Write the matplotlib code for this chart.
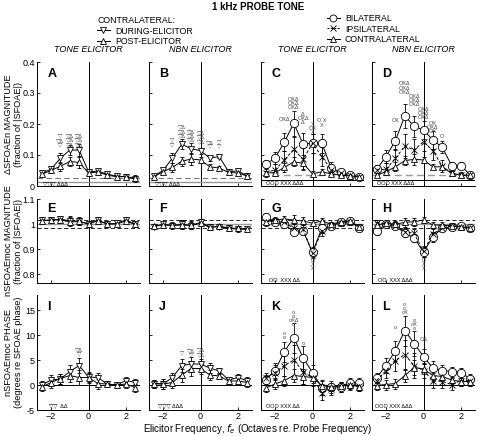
import numpy as np
import matplotlib
matplotlib.use('Agg')
import matplotlib.pyplot as plt
from matplotlib.lines import Line2D

plt.rcParams['font.family'] = ['Liberation Sans', 'DejaVu Sans']

#elicitor frequency re probe (octaves)
octs = [-2.5, -2, -1.5, -1, -0.5, 0, 0.5, 1, 1.5, 2, 2.5]

#row 1: delta SFOAEn magnitude
A_during = [0.042, 0.054, 0.090, 0.116, 0.116, 0.046, 0.048, 0.038, 0.032, 0.030, 0.022]
A_post = [0.038, 0.050, 0.064, 0.079, 0.076, 0.042, 0.045, 0.035, 0.030, 0.030, 0.025]
B_during = [0.032, 0.050, 0.090, 0.135, 0.120, 0.114, 0.090, 0.095, 0.046, 0.049, 0.032]
B_post = [0.030, 0.046, 0.060, 0.080, 0.087, 0.084, 0.062, 0.058, 0.044, 0.042, 0.032]
C_bi = [0.070, 0.090, 0.142, 0.202, 0.135, 0.138, 0.138, 0.057, 0.046, 0.035, 0.029]
C_ipsi = [0.043, 0.052, 0.084, 0.118, 0.086, 0.138, 0.095, 0.052, 0.041, 0.035, 0.029]
C_contra = [0.042, 0.043, 0.060, 0.078, 0.073, 0.039, 0.046, 0.039, 0.035, 0.033, 0.029]
D_bi = [0.054, 0.095, 0.146, 0.226, 0.192, 0.181, 0.148, 0.125, 0.066, 0.066, 0.035]
D_ipsi = [0.052, 0.054, 0.089, 0.129, 0.116, 0.143, 0.114, 0.064, 0.041, 0.035, 0.034]
D_contra = [0.035, 0.046, 0.062, 0.082, 0.086, 0.084, 0.062, 0.062, 0.041, 0.035, 0.035]

#row 2: nSFOAEmoc magnitude
E_during = [1.016, 1.014, 1.020, 1.012, 1.012, 0.999, 1.016, 0.999, 1.003, 1.016, 0.999]
E_post = [1.013, 1.016, 1.017, 1.008, 1.010, 1.001, 1.013, 1.001, 1.000, 1.012, 0.998]
F_during = [0.989, 0.999, 0.993, 0.999, 0.993, 1.007, 0.989, 0.989, 0.983, 0.979, 0.979]
F_post = [0.991, 0.996, 0.995, 0.996, 0.995, 1.003, 0.986, 0.991, 0.985, 0.982, 0.980]
G_bi = [1.029, 1.009, 0.999, 0.969, 0.972, 0.887, 0.983, 0.990, 1.009, 1.012, 0.983]
G_ipsi = [1.009, 1.012, 1.007, 0.983, 0.979, 0.883, 0.972, 0.992, 1.003, 1.007, 0.989]
G_contra = [1.009, 1.016, 1.020, 1.016, 1.012, 1.003, 1.012, 0.999, 1.009, 1.012, 0.989]
H_bi = [0.972, 0.999, 0.993, 0.963, 0.945, 0.887, 0.949, 0.983, 0.989, 0.993, 0.983]
H_ipsi = [1.003, 0.999, 0.993, 0.969, 0.963, 0.890, 0.960, 0.983, 0.992, 0.989, 0.983]
H_contra = [0.996, 1.003, 0.999, 1.007, 1.009, 1.016, 0.996, 0.996, 0.993, 0.989, 0.983]

#row 3: nSFOAEmoc phase (degrees)
I_during = [0.0, 1.0, 1.2, 2.7, 3.9, 1.6, 1.5, 0.2, 0.0, 0.9, 0.5]
I_post = [-0.4, 0.5, 1.3, 1.9, 1.5, 1.5, 0.3, 0.2, 0.0, 0.2, -0.5]
J_during = [0.3, 0.2, 1.5, 3.9, 4.2, 4.2, 3.4, 2.8, 1.0, 1.5, 0.8]
J_post = [0.3, 0.2, 0.5, 2.0, 3.3, 3.3, 2.0, 1.8, 0.8, 0.8, 0.5]
K_bi = [1.0, 2.9, 6.7, 9.5, 5.4, 2.5, -0.5, -0.3, -0.3, 0.5, 0.5]
K_ipsi = [1.5, 2.5, 3.9, 5.0, 2.7, 1.4, -1.5, -0.8, -0.3, 0.0, -0.1]
K_contra = [-0.6, 0.2, 0.9, 1.9, 1.7, 1.5, -0.1, -0.3, -0.1, 0.0, -0.3]
L_bi = [1.5, 3.9, 6.9, 10.9, 8.3, 5.7, 3.4, 2.9, 2.7, 2.5, 1.2]
L_ipsi = [0.9, 2.9, 4.9, 6.1, 3.9, 2.9, 0.9, 0.7, 0.1, 0.9, 0.9]
L_contra = [-0.1, 0.1, 0.3, 1.9, 3.5, 3.2, 1.9, 1.7, 1.0, 0.7, 0.7]

#error bars (rough, one per series group)
err1_small = [0.006, 0.008, 0.015, 0.015, 0.018, 0.010, 0.008, 0.006, 0.006, 0.008, 0.010]
err1_big = [0.015, 0.020, 0.030, 0.040, 0.035, 0.030, 0.030, 0.020, 0.010, 0.010, 0.008]
err2 = [0.010, 0.010, 0.012, 0.018, 0.015, 0.012, 0.012, 0.010, 0.010, 0.010, 0.008]
err2_dip = [0.015, 0.012, 0.015, 0.015, 0.015, 0.020, 0.020, 0.012, 0.010, 0.010, 0.010]
err3 = [0.8, 1.0, 1.0, 1.3, 1.5, 1.0, 1.0, 0.6, 0.5, 0.8, 0.8]
err3_big = [1.0, 1.5, 2.0, 3.0, 2.5, 1.5, 1.5, 1.2, 1.0, 1.0, 1.0]

#significance marks: (x, y, text)
A_sig = [(-1.5, 0.16, '▽'), (-1.5, 0.145, '▽Δ'), (-1.5, 0.13, '▽'),
         (-1, 0.163, '▽Δ'), (-1, 0.149, '▽Δ'), (-1, 0.135, '▽Δ'),
         (-0.5, 0.163, '▽Δ'), (-0.5, 0.149, '▽Δ'), (-0.5, 0.135, '▽Δ')]
B_sig = [(-1.5, 0.145, '▽'), (-1.5, 0.13, '▽'),
         (-1, 0.19, '▽Δ'), (-1, 0.176, '▽Δ'), (-1, 0.162, '▽Δ'),
         (-0.5, 0.176, '▽Δ'), (-0.5, 0.162, '▽Δ'), (-0.5, 0.148, '▽Δ'),
         (0, 0.172, '▽Δ'), (0, 0.158, '▽Δ'), (0, 0.144, '▽Δ'),
         (0.5, 0.14, '▽Δ'), (0.5, 0.126, '▽'), (1, 0.14, '▽'), (1, 0.126, '▽')]
C_sig = [(-1.5, 0.215, 'OXΔ'),
         (-1, 0.28, 'OXΔ'), (-1, 0.266, 'OXΔ'), (-1, 0.252, 'OXΔ'),
         (-0.5, 0.232, 'Δ'), (-0.5, 0.218, 'OXΔ'), (-0.5, 0.204, 'Δ'),
         (0, 0.2, 'X'), (0, 0.186, 'OX'), (0, 0.172, 'X'),
         (0.5, 0.21, 'O X'), (0.5, 0.196, 'X')]
D_sig = [(-1.5, 0.21, 'OX'),
         (-1, 0.33, 'OXΔ'), (-1, 0.316, 'OXΔ'), (-1, 0.302, 'OXΔ'),
         (-0.5, 0.29, 'OXΔ'), (-0.5, 0.276, 'OXΔ'), (-0.5, 0.262, 'OXΔ'),
         (0, 0.248, 'OXΔ'), (0, 0.234, 'OXΔ'), (0, 0.220, 'OXΔ'),
         (0.5, 0.203, 'OX'), (0.5, 0.190, 'OXΔ'), (0.5, 0.177, 'OX'),
         (1, 0.16, 'O')]
G_sig = [(0, 0.855, 'O'), (0, 0.838, 'X'), (0, 0.821, 'X')]
H_sig = [(0, 0.855, 'O'), (0, 0.838, 'X'), (0, 0.821, 'X')]
I_sig = [(-0.5, 7.0, '▽Δ'), (-0.5, 6.0, '▽')]
J_sig = [(-1, 6.3, '▽'), (-0.5, 6.8, '▽Δ'), (-0.5, 5.8, '▽'), (0, 7.0, '▽Δ'), (0, 6.0, '▽Δ')]
K_sig = [(-1.5, 10.4, 'o'), (-1.5, 9.6, 'o'), (-1, 14.6, 'o'), (-1, 13.8, 'o'),
         (-1, 13.0, 'oXΔ'), (-1, 12.2, 'o'), (-0.5, 8.4, 'o')]
L_sig = [(-1.5, 11.6, 'o'), (-1, 16.2, 'o'), (-1, 15.4, 'o'), (-1, 14.6, 'oX'),
         (-0.5, 12.9, 'o'), (-0.5, 12.1, 'oX'), (-0.5, 11.3, 'o'), (0, 9.2, 'OΔ')]

#bottom-row significance strings
contraBottom = ['▽▽▽ ΔΔΔ', '▽▽▽ ΔΔΔ']
threeBottom = ['OOO XXX ΔΔΔ', 'OOO XXX ΔΔΔ']
mocBottom = ['OO  XXX ΔΔ', 'OO  XXX ΔΔΔ']
phaseBottom = ['▽▽  ΔΔ', '▽▽▽ ΔΔΔ', 'OOO XXX ΔΔ', 'OOO XXX ΔΔΔ']

W, H = 478, 436
fig = plt.figure(figsize=(W / 100.0, H / 100.0), dpi=100)

lefts = [37, 149, 261, 372]
rowTop = [62, 199, 295]
rowBot = [186, 283, 410]
width = 103

def makeAx(row, col):
	l = lefts[col] / W
	b = 1 - rowBot[row] / H
	h = (rowBot[row] - rowTop[row]) / H
	ax = fig.add_axes([l, b, width / W, h])
	ax.spines['top'].set_visible(False)
	ax.spines['right'].set_visible(False)
	for s in ['left', 'bottom']:
		ax.spines[s].set_linewidth(0.7)
	ax.tick_params(direction='in', length=2.5, width=0.6, labelsize=6.5, pad=1.5)
	ax.set_xlim(-2.75, 2.75)
	ax.set_xticks([-2, 0, 2])
	ax.axvline(0, color='k', lw=0.7)
	if col > 0:
		ax.set_yticklabels([])
	if row < 2:
		ax.set_xticklabels([])
	return ax

def series(ax, y, err, marker, ls='-', ms=5):
	ax.errorbar(octs, y, yerr=err, color='k', lw=0.7, ls=ls, marker=marker, ms=ms,
				mfc='white', mec='k', mew=0.6, elinewidth=0.6, capsize=1.5, capthick=0.6, zorder=3)

def sig(ax, marks):
	for m in marks:
		ax.text(m[0], m[1], m[2], fontsize=4, ha='center', va='center', color='#444444', zorder=5)

letters = ['A', 'B', 'C', 'D', 'E', 'F', 'G', 'H', 'I', 'J', 'K', 'L']
axes = []
for row in range(3):
	for col in range(4):
		axes.append(makeAx(row, col))

for ax in axes[0:4]:
	ax.set_ylim(0, 0.4)
	ax.set_yticks([0, 0.1, 0.2, 0.3, 0.4])
for ax in axes[4:8]:
	ax.set_ylim(0.764, 1.1)
	ax.set_yticks([0.8, 0.9, 1.0, 1.1])
for ax in axes[8:12]:
	ax.set_ylim(-5, 18)
	ax.set_yticks([-5, 0, 5, 10, 15])
	ax.axhline(0, color='k', lw=0.7)

axes[0].set_yticklabels(['0', '0.1', '0.2', '0.3', '0.4'])
axes[4].set_yticklabels(['0.8', '0.9', '1', '1.1'])
axes[8].set_yticklabels(['-5', '0', '5', '10', '15'])

#row 1
for ax in axes[0:2]:
	ax.axhline(0.013, color='#999999', lw=1.0)
	ax.axhline(0.027, color='#777777', lw=0.8, ls=(0, (5, 3)))
for ax in axes[2:4]:
	ax.axhline(0.018, color='k', lw=0.7)
	ax.axhline(0.034, color='#999999', lw=1.0, ls=(0, (5, 3)))

series(axes[0], A_during, err1_small, 'v')
series(axes[0], A_post, err1_small, '^')
series(axes[1], B_during, err1_small, 'v')
series(axes[1], B_post, err1_small, '^')
series(axes[2], C_bi, err1_big, 'o', ms=6)
series(axes[2], C_ipsi, err1_big, 'x', ls=(0, (3, 2)))
series(axes[2], C_contra, err1_small, '^')
series(axes[3], D_bi, err1_big, 'o', ms=6)
series(axes[3], D_ipsi, err1_big, 'x', ls=(0, (3, 2)))
series(axes[3], D_contra, err1_small, '^')
sig(axes[0], A_sig)
sig(axes[1], B_sig)
sig(axes[2], C_sig)
sig(axes[3], D_sig)
axes[0].text(-1.75, 0.007, contraBottom[0], fontsize=4, ha='center', va='center')
axes[1].text(-1.75, 0.007, contraBottom[1], fontsize=4, ha='center', va='center')
axes[2].text(-1.5, 0.007, threeBottom[0], fontsize=4, ha='center', va='center')
axes[3].text(-1.5, 0.007, threeBottom[1], fontsize=4, ha='center', va='center')

#row 2
for ax in axes[4:8]:
	ax.axhline(1.0, color='#999999', lw=1.0)
	ax.axhline(1.015, color='k', lw=0.6, ls=(0, (5, 3)))
	ax.axhline(0.985, color='k', lw=0.6, ls=(0, (5, 3)))
series(axes[4], E_during, err2, 'v')
series(axes[4], E_post, err2, '^')
series(axes[5], F_during, err2, 'v')
series(axes[5], F_post, err2, '^')
series(axes[6], G_bi, err2_dip, 'o', ms=6)
series(axes[6], G_ipsi, err2_dip, 'x', ls=(0, (3, 2)))
series(axes[6], G_contra, err2, '^')
series(axes[7], H_bi, err2_dip, 'o', ms=6)
series(axes[7], H_ipsi, err2_dip, 'x', ls=(0, (3, 2)))
series(axes[7], H_contra, err2, '^')
sig(axes[6], G_sig)
sig(axes[7], H_sig)
axes[6].text(-1.5, 0.775, mocBottom[0], fontsize=4, ha='center', va='center')
axes[7].text(-1.5, 0.775, mocBottom[1], fontsize=4, ha='center', va='center')

#row 3
series(axes[8], I_during, err3, 'v')
series(axes[8], I_post, err3, '^')
series(axes[9], J_during, err3, 'v')
series(axes[9], J_post, err3, '^')
series(axes[10], K_bi, err3_big, 'o', ms=6)
series(axes[10], K_ipsi, err3_big, 'x', ls=(0, (3, 2)))
series(axes[10], K_contra, err3, '^')
series(axes[11], L_bi, err3_big, 'o', ms=6)
series(axes[11], L_ipsi, err3_big, 'x', ls=(0, (3, 2)))
series(axes[11], L_contra, err3, '^')
sig(axes[8], I_sig)
sig(axes[9], J_sig)
sig(axes[10], K_sig)
sig(axes[11], L_sig)
for i in range(4):
	axes[8 + i].text(-1.6, -4.2, phaseBottom[i], fontsize=4, ha='center', va='center')

for i in range(12):
	axes[i].text(0.1, 0.95, letters[i], transform=axes[i].transAxes, fontsize=9,
				 fontweight='bold', ha='left', va='top')

#column headers
heads = ['TONE ELICITOR', 'NBN ELICITOR', 'TONE ELICITOR', 'NBN ELICITOR']
for col in range(4):
	fig.text((lefts[col] + width / 2.0) / W, 1 - 50 / H, heads[col], fontsize=6.5,
			 style='italic', ha='center', va='center')

fig.text(258 / W, 1 - 7 / H, '1 kHz PROBE TONE', fontsize=7, fontweight='bold', ha='center', va='center')

#y labels, two lines each
ylabs = [('ΔSFOAEn MAGNITUDE', '(fraction of |SFOAE|)'),
		 ('nSFOAEmoc MAGNITUDE', '(fraction of |SFOAE|)'),
		 ('nSFOAEmoc PHASE', '(degrees re SFOAE phase)')]
for row in range(3):
	yc = 1 - (rowTop[row] + rowBot[row]) / 2.0 / H
	fig.text(9 / W, yc, ylabs[row][0], rotation=90, fontsize=6.6, ha='center', va='center')
	fig.text(19 / W, yc, ylabs[row][1], rotation=90, fontsize=6.6, ha='center', va='center')

fig.text(258 / W, 1 - 429 / H, 'Elicitor Frequency, $f_e$ (Octaves re. Probe Frequency)',
		 fontsize=7, ha='center', va='center')

#legends
def h(marker, ls='-'):
	return Line2D([], [], color='k', lw=0.7, ls=ls, marker=marker, ms=5, mfc='white', mec='k', mew=0.6)

fig.legend([h('v'), h('^')], ['DURING-ELICITOR', 'POST-ELICITOR'], title='CONTRALATERAL:',
		   loc='upper left', bbox_to_anchor=(92 / W, 1 - 11 / H), frameon=False, fontsize=6.3,
		   title_fontsize=6.3, alignment='left', handlelength=1.4, handletextpad=0.6,
		   labelspacing=0.15, borderpad=0.1)
fig.legend([h('o'), h('x', (0, (2, 1.5))), h('^')], ['BILATERAL', 'IPSILATERAL', 'CONTRALATERAL'],
		   loc='upper left', bbox_to_anchor=(322 / W, 1 - 9 / H), frameon=False, fontsize=6.3,
		   handlelength=1.4, handletextpad=0.6, labelspacing=0.15, borderpad=0.1)

fig.savefig('out.png', dpi=100)
